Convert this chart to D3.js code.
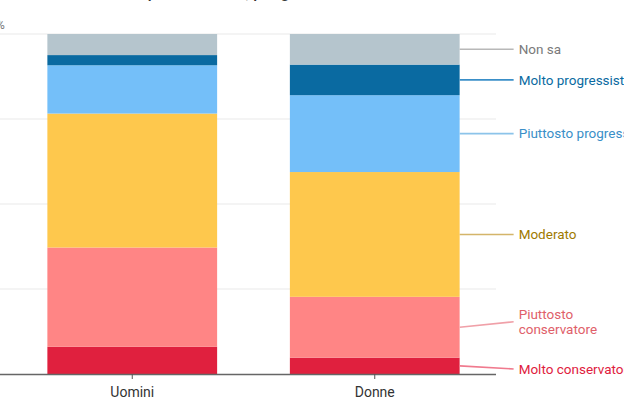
<!DOCTYPE html>
<html>
<head>
<meta charset="utf-8">
<script src="https://cdn.jsdelivr.net/npm/d3@7"></script>
<style>
  html, body { margin: 0; padding: 0; background: #fff; overflow: hidden; }
  svg { display: block; font-family: Roboto, "Noto Sans", sans-serif; }
</style>
</head>
<body>
<svg id="chart" width="624" height="416"></svg>
<script>
// ---- data ----
const categories = ["Uomini", "Donne"];
const seriesNames = ["Molto conservatore", "Piuttosto conservatore", "Moderato", "Piuttosto progressista", "Molto progressista", "Non sa"];
const uominiValues = [8.0, 29.2, 39.4, 14.2, 3.0, 6.2];
const donneValues = [4.8, 17.9, 36.7, 22.6, 9.0, 9.0];
const yTicks = [0, 25, 50, 75, 100];
const labelTexts = [["Molto conservatore"], ["Piuttosto", "conservatore"], ["Moderato"], ["Piuttosto progressista"], ["Molto progressista"], ["Non sa"]];

const barColors = ["#e0203e", "#ff8585", "#fec84d", "#74bff9", "#0a6aa1", "#b5c5cd"];
const textColors = ["#e0203e", "#e0606a", "#a07a00", "#3a8fc8", "#0a6aa1", "#7a7a7a"];
const lineColors = ["#f07a8e", "#f0a0a8", "#d4b56a", "#8cc4ea", "#3a8fc8", "#b8b8b8"];

// ---- layout ----
const svg = d3.select("#chart");
const plotTop = 34, plotBottom = 374, plotRight = 496;

const x = d3.scaleBand().domain(categories).range([11, plotRight]).paddingInner(0.3).paddingOuter(0.15);
const y = d3.scaleLinear().domain([0, 100]).range([plotBottom, plotTop]);

// title (cut off at top, as in reference)
svg.append("text").attr("x", -2).attr("y", -2)
  .attr("font-size", 16).attr("font-weight", 500).attr("fill", "#333")
  .text("Come si definiscono politicamente, per genere");

// gridlines
svg.append("g").selectAll("line").data(yTicks.filter(d => d > 0)).join("line")
  .attr("x1", -40).attr("x2", plotRight)
  .attr("y1", d => y(d)).attr("y2", d => y(d))
  .attr("stroke", "#e9e9e9").attr("stroke-width", 1);

// y axis labels (off-canvas to the left, as in reference)
const yAxis = d3.axisLeft(y).tickValues(yTicks).tickSize(0).tickPadding(6).tickFormat(d => d);
const gy = svg.append("g").attr("transform", "translate(-10,0)").call(yAxis);
gy.select(".domain").remove();
gy.selectAll("text").attr("font-size", 12).attr("fill", "#666").attr("font-family", "Roboto, sans-serif");
svg.append("text").attr("x", -4).attr("y", 29).attr("font-size", 12).attr("fill", "#777").text("%");

// stacks
const rows = categories.map((c, i) => {
  const vals = i === 0 ? uominiValues : donneValues;
  const o = { cat: c };
  seriesNames.forEach((s, j) => o[s] = vals[j]);
  return o;
});
const stack = d3.stack().keys(seriesNames)(rows);

svg.append("g").selectAll("g").data(stack).join("g")
  .attr("fill", (d, i) => barColors[i])
  .selectAll("rect").data(d => d).join("rect")
  .attr("x", d => x(d.data.cat))
  .attr("width", x.bandwidth())
  .attr("y", d => y(d[1]))
  .attr("height", d => y(d[0]) - y(d[1]));

// x axis
const xAxis = d3.axisBottom(x).tickSize(5).tickPadding(8);
const gx = svg.append("g").attr("transform", `translate(0,${plotBottom})`).call(xAxis);
gx.select(".domain").attr("d", `M-10,0.5H${plotRight}`).attr("stroke", "#666").attr("stroke-width", 1.5);
gx.selectAll(".tick line").attr("stroke", "#555");
gx.selectAll("text").attr("font-size", 14).attr("fill", "#333").attr("font-family", "Roboto, sans-serif");

// direct labels for last bar (Donne)
const last = categories[categories.length - 1];
const barRight = x(last) + x.bandwidth();
const lineEnd = barRight + 54;
const textX = barRight + 59;
const lineGap = 15.5;
let mids = stack.map(s => { const d = s[s.length - 1]; return (y(d[0]) + y(d[1])) / 2; });
let centers = mids.slice();
centers[0] = Math.max(centers[0], plotBottom - 5);
const heights = labelTexts.map(t => t.length === 1 ? lineGap : t.length * lineGap + 44);
for (let i = 1; i < centers.length; i++) {
  const minGap = (heights[i - 1] + heights[i]) / 2 + 2;
  if (centers[i - 1] - centers[i] < minGap) centers[i] = centers[i - 1] - minGap;
}

const lab = svg.append("g");
seriesNames.forEach((s, i) => {
  lab.append("line")
    .attr("x1", barRight).attr("y1", mids[i])
    .attr("x2", lineEnd).attr("y2", centers[i])
    .attr("stroke", lineColors[i]).attr("stroke-width", 1.6);
  const n = labelTexts[i].length;
  const t = lab.append("text").attr("x", textX).attr("font-size", 13.5).attr("fill", textColors[i]);
  labelTexts[i].forEach((line, k) => {
    t.append("tspan").attr("x", textX)
      .attr("y", centers[i] + (k - (n - 1) / 2) * lineGap)
      .attr("dy", "0.35em").text(line);
  });
});
</script>
</body>
</html>
